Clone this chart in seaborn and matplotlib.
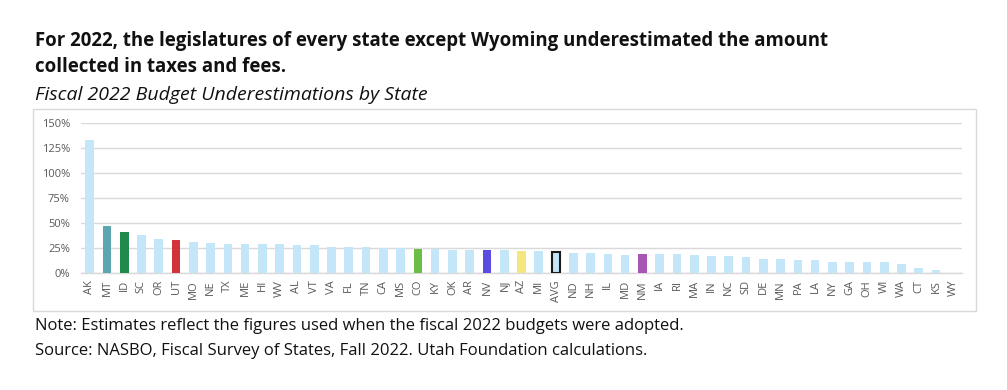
import matplotlib
matplotlib.use("Agg")
import matplotlib.pyplot as plt
import seaborn as sns
import numpy as np
import pandas as pd
from matplotlib.patches import Rectangle
from matplotlib.ticker import FuncFormatter

states = ["AK", "MT", "ID", "SC", "OR", "UT", "MO", "NE", "TX", "ME", "HI", "WV", "AL", "VT", "VA",
          "FL", "TN", "CA", "MS", "CO", "KY", "OK", "AR", "NV", "NJ", "AZ", "MI", "AVG", "ND", "NH",
          "IL", "MD", "NM", "IA", "RI", "MA", "IN", "NC", "SD", "DE", "MN", "PA", "LA", "NY", "GA",
          "OH", "WI", "WA", "CT", "KS", "WY"]
values = [133.4, 47.2, 40.8, 38.1, 34.1, 32.8, 31.4, 30.1, 29.4, 28.8, 28.8, 28.8, 27.8, 27.8, 26.4,
          26.4, 26.4, 25.4, 25.4, 24.4, 24.4, 23.4, 23.1, 23.1, 23.1, 22.4, 22.1, 20.7, 20.4, 19.7,
          19.1, 18.4, 18.7, 18.7, 18.7, 18.1, 17.4, 17.4, 16.4, 14.0, 14.0, 13.4, 12.7, 11.4, 11.4,
          10.7, 10.7, 9.4, 5.0, 3.0, 0.0]
yticks = [0, 25, 50, 75, 100, 125, 150]

base_color = "#C3E6F9"
highlight = {"MT": "#5BA6B0", "ID": "#1F8A4B", "UT": "#D2333B", "CO": "#6CBD48",
             "NV": "#5A4CE1", "AZ": "#F6E682", "NM": "#A757B3"}
palette = {s: highlight.get(s, base_color) for s in states}

df = pd.DataFrame({"state": states, "value": values})

sns.set_theme(style="white")
plt.rcParams['font.family'] = ['Open Sans', 'DejaVu Sans']

fig = plt.figure(figsize=(10.07, 3.90), dpi=100)

# chart box
box = Rectangle((33 / 1007, 1 - 311 / 390), (976 - 33) / 1007, (311 - 109) / 390,
                transform=fig.transFigure, facecolor="white",
                edgecolor="#D9D9D9", linewidth=1.0, zorder=-5)
fig.patches.append(box)

ax = fig.add_axes([81 / 1007, 1 - 273 / 390, (962 - 81) / 1007, 150 / 390], zorder=2)
ax.set_facecolor("none")
sns.barplot(data=df, x="state", y="value", hue="state", palette=palette, dodge=False,
            legend=False, width=0.5, ax=ax, zorder=3, saturation=1)

avg_idx = states.index("AVG")
for p in ax.patches:
    p.set_linewidth(0)
    cx = p.get_x() + p.get_width() / 2
    if abs(cx - avg_idx) < 0.01 and p.get_height() > 0:
        p.set_edgecolor("#1A1A1A")
        p.set_linewidth(1.5)

ax.set_ylim(0, 150)
ax.set_xlim(-0.5, len(states) - 0.5)
ax.set_yticks(yticks)
ax.yaxis.set_major_formatter(FuncFormatter(lambda v, _: f"{int(v)}%"))
ax.yaxis.grid(True, color="#D9D9D9", linewidth=1.0, zorder=0)
ax.set_axisbelow(True)
for s in ["top", "right", "left"]:
    ax.spines[s].set_visible(False)
ax.spines["bottom"].set_color("#D9D9D9")
ax.spines["bottom"].set_linewidth(1.0)

ax.tick_params(axis="y", length=0, labelsize=8, labelcolor="#595959", pad=8)
ax.tick_params(axis="x", which="major", length=0, labelsize=8, labelcolor="#595959",
               labelrotation=90, pad=5)
ax.set_xticks(np.arange(-0.5, len(states), 1.0), minor=True)
ax.tick_params(axis="x", which="minor", length=4, color="#D9D9D9", width=1.0)
ax.set_xlabel("")
ax.set_ylabel("")

fig.text(35 / 1007, 1 - 41 / 390,
         "For 2022, the legislatures of every state except Wyoming underestimated the amount",
         fontsize=13.4, fontweight="bold", color="#111111", va="center", ha="left")
fig.text(35 / 1007, 1 - 67 / 390, "collected in taxes and fees.",
         fontsize=13.4, fontweight="bold", color="#111111", va="center", ha="left")
fig.text(35 / 1007, 1 - 95 / 390, "Fiscal 2022 Budget Underestimations by State",
         fontsize=14, fontstyle="italic", color="#111111", va="center", ha="left")
fig.text(35 / 1007, 1 - 326 / 390,
         "Note: Estimates reflect the figures used when the fiscal 2022 budgets were adopted.",
         fontsize=12, color="#111111", va="center", ha="left")
fig.text(35 / 1007, 1 - 351 / 390,
         "Source: NASBO, Fiscal Survey of States, Fall 2022. Utah Foundation calculations.",
         fontsize=12, color="#111111", va="center", ha="left")

fig.savefig("out.png", dpi=100)
